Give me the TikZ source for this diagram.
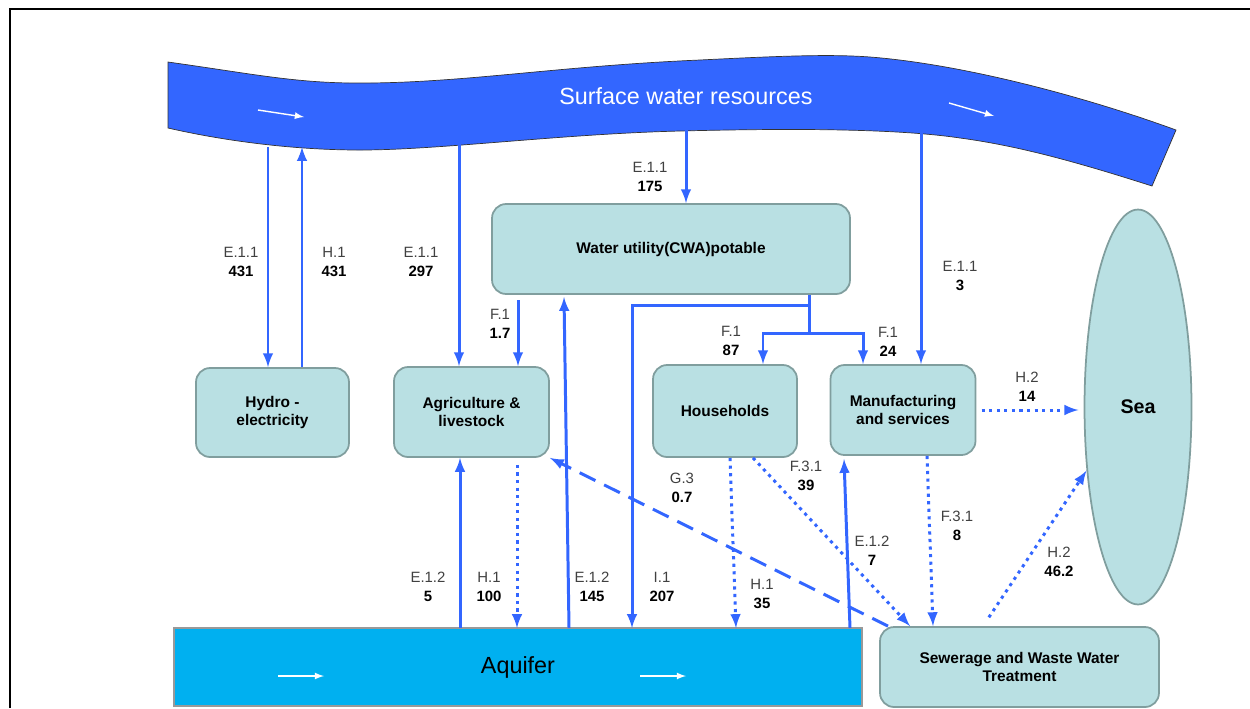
\documentclass[tikz,border=0pt]{standalone}
\usepackage{fontspec}
\setmainfont{Liberation Sans}
\usetikzlibrary{shapes.geometric}

\definecolor{riverblue}{HTML}{3366FF}
\definecolor{aquiferblue}{HTML}{00B0F0}
\definecolor{boxfill}{HTML}{B9E0E3}
\definecolor{boxedge}{HTML}{809E9E}
\definecolor{labelgray}{HTML}{404040}

\tikzstyle{sector} = [rectangle, rounded corners=8pt, draw=boxedge, line width=1pt, fill=boxfill, align=center, font=\fontsize{8.8}{10.4}\selectfont\bfseries]
\tikzstyle{line} = [draw, -latex, line width=1.7pt, riverblue]
\tikzstyle{dotline} = [line, dash pattern=on 1.8pt off 2.5pt]
\tikzstyle{dashline} = [line, dash pattern=on 10pt off 5.5pt]
\tikzstyle{flowlabel} = [align=center, font=\fontsize{8.5}{10.8}\selectfont]
\tikzstyle{current} = [draw=white, -latex, line width=0.8pt]

\newcommand{\flow}[2]{{\color{labelgray}#1}\\\textbf{#2}}

\begin{document}
\begin{tikzpicture}[x=0.02cm, y=-0.02cm]
    \useasboundingbox (0,0) rectangle (1250,708);
    \draw[line width=1.2pt] (10,708) -- (10,9) -- (1250,9);

    % river
    \draw[fill=riverblue, draw=black!80, line width=0.4pt]
        (168,62) .. controls (260,75) and (300,84) .. (370,83)
        .. controls (470,82) and (560,66) .. (700,60)
        .. controls (780,56) and (830,54) .. (870,57)
        .. controls (960,64) and (1080,95) .. (1176,130)
        -- (1152,186) .. controls (1080,163) and (1020,146) .. (960,138)
        .. controls (900,129) and (800,128) .. (680,131)
        .. controls (560,134) and (440,150) .. (360,150)
        .. controls (290,150) and (220,140) .. (168,128) -- cycle;
    \node[text=white, font=\fontsize{13.3}{16}\selectfont]
            (SurfaceWater) at (686,96) {Surface water resources};
    \draw[current] (258,110) -- (304,117);
    \draw[current] (949,103) -- (994,116);

    % aquifer
    \node[rectangle, draw=gray!80, line width=1pt, fill=aquiferblue,
          minimum width=13.76cm, minimum height=1.56cm,
          font=\fontsize{13.3}{16}\selectfont]
            (Aquifer) at (518,667) {Aquifer};
    \draw[current] (278,676) -- (324,676);
    \draw[current] (640,676) -- (686,676);

    % sectors
    \node[sector, minimum width=3.06cm, minimum height=1.78cm]
            (Hydro) at (272.5,412.5) {Hydro -\\electricity};
    \node[sector, minimum width=3.1cm, minimum height=1.8cm]
            (Agriculture) at (471.5,412) {Agriculture \&\\livestock};
    \node[sector, minimum width=7.16cm, minimum height=1.8cm]
            (Utility) at (671,249) {Water utility(CWA)potable};
    \node[sector, minimum width=2.88cm, minimum height=1.84cm]
            (Households) at (725,411) {Households};
    \node[sector, minimum width=2.9cm, minimum height=1.8cm]
            (Manufacturing) at (903,410) {Manufacturing\\and services};
    \node[sector, minimum width=5.58cm, minimum height=1.6cm]
            (Sewerage) at (1019.5,667) {Sewerage and Waste Water\\Treatment};
    \node[ellipse, draw=boxedge, line width=1pt, fill=boxfill, inner sep=0pt,
          minimum width=2.14cm, minimum height=7.9cm,
          font=\fontsize{11.2}{13}\selectfont\bfseries]
            (Sea) at (1138,407) {Sea};

    % end points on river and aquifer
    \coordinate (swHydroIn) at (268,147);
    \coordinate (swHydroOut) at (302,147);
    \coordinate (swAgri) at (459,143);
    \coordinate (swUtil) at (686,128);
    \coordinate (swManu) at (921,130);
    \coordinate (utAgri) at (518,300);
    \coordinate (utAq) at (564,297);
    \coordinate (utSplit) at (809,305);
    \coordinate (utBranch) at (809,333);
    \coordinate (aqAgri) at (460,628);
    \coordinate (aqAgriIn) at (517,628);
    \coordinate (aqUtil) at (569,628);
    \coordinate (aqI) at (632,628);
    \coordinate (aqHouse) at (736,628);
    \coordinate (hhAq) at (730,458);
    \coordinate (aqManu) at (850,628);
    \coordinate (mfAq) at (844,459);

    % abstraction from surface water
    \path[line] (swHydroIn) -- (swHydroIn |- Hydro.north);
    \path[line] (swHydroOut |- Hydro.north) -- (swHydroOut);
    \path[line] (swAgri) -- (swAgri |- Agriculture.north);
    \path[line] (swUtil) -- (swUtil |- Utility.north);
    \path[line] (swManu) -- (swManu |- Manufacturing.north);

    % water utility
    \path[line] (utAgri) -- (utAgri |- Agriculture.north);
    \path[line] (aqUtil) -- (utAq);
    \path[line] (Utility.south -| utSplit) -- (utSplit) -| (aqI);
    \path[draw, riverblue, line width=1.7pt] (utSplit) -- (utBranch);
    \path[line] (utBranch) -| ([xshift=0.76cm]Households.north);
    \path[line] (utBranch) -| ([xshift=-0.8cm]Manufacturing.north);

    % aquifer exchanges
    \path[line] (aqAgri) -- (aqAgri |- Agriculture.south);
    \path[dotline, shorten <=4pt] (aqAgriIn |- Agriculture.south) -- (aqAgriIn);
    \path[dotline] (hhAq) -- (aqHouse);
    \path[line] (aqManu) -- (mfAq);

    % returns
    \path[dotline] ([xshift=0.56cm]Households.south) -- ([xshift=-2.19cm]Sewerage.north);
    \path[dotline] ([xshift=0.48cm]Manufacturing.south) -- ([xshift=-1.73cm]Sewerage.north);
    \path[dotline, shorten <=3pt, shorten >=3pt] (Manufacturing.east) -- (Manufacturing.east -| Sea.west);
    \path[dotline, shorten <=6pt] ([xshift=-0.73cm]Sewerage.north) -- (Sea.231);
    \path[dashline] ([xshift=-2.63cm]Sewerage.north) -- (Agriculture.south east);

    % flow labels
    \node[flowlabel] (lblHydroIn) at (241,262) {\flow{E.1.1}{431}};
    \node[flowlabel] (lblHydroOut) at (334,262) {\flow{H.1}{431}};
    \node[flowlabel] (lblAgriSw) at (421,262) {\flow{E.1.1}{297}};
    \node[flowlabel] (lblUtilSw) at (650,177) {\flow{E.1.1}{175}};
    \node[flowlabel] (lblAgriUt) at (500,324) {\flow{F.1}{1.7}};
    \node[flowlabel] (lblManuSw) at (960,276) {\flow{E.1.1}{3}};
    \node[flowlabel] (lblHouseUt) at (731,341) {\flow{F.1}{87}};
    \node[flowlabel] (lblManuUt) at (888,342) {\flow{F.1}{24}};
    \node[flowlabel] (lblManuSea) at (1027,387) {\flow{H.2}{14}};
    \node[flowlabel] (lblSewAgri) at (682,488) {\flow{G.3}{0.7}};
    \node[flowlabel] (lblHouseSew) at (806,476) {\flow{F.3.1}{39}};
    \node[flowlabel] (lblAgriAq) at (428,587) {\flow{E.1.2}{5}};
    \node[flowlabel] (lblAqAgri) at (489,587) {\flow{H.1}{100}};
    \node[flowlabel] (lblUtilAq) at (592,587) {\flow{E.1.2}{145}};
    \node[flowlabel] (lblAqUtil) at (662,587) {\flow{I.1}{207}};
    \node[flowlabel] (lblAqHouse) at (762,594) {\flow{H.1}{35}};
    \node[flowlabel] (lblManuAq) at (872,551) {\flow{E.1.2}{7}};
    \node[flowlabel] (lblManuSew) at (957,526) {\flow{F.3.1}{8}};
    \node[flowlabel] (lblSewSea) at (1059,562) {\flow{H.2}{46.2}};
\end{tikzpicture}
\end{document}
